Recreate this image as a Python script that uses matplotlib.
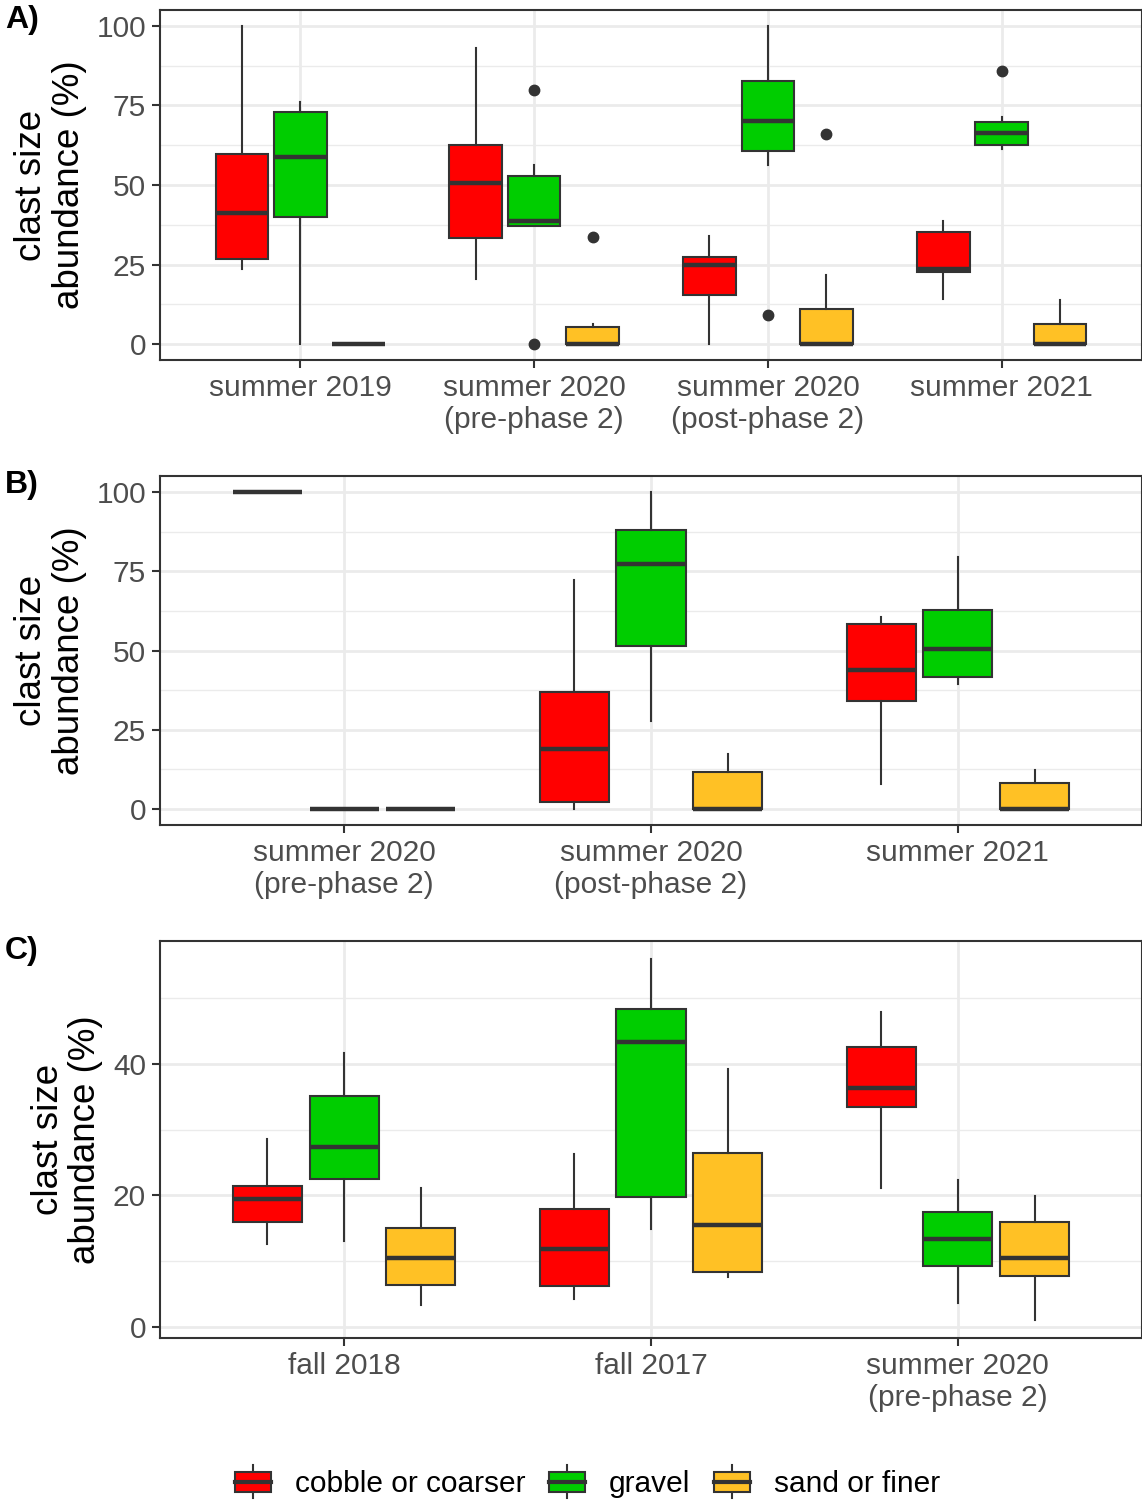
import numpy as np
import matplotlib.pyplot as plt
from matplotlib.patches import Rectangle, Patch
from matplotlib.lines import Line2D
from matplotlib.legend_handler import HandlerBase

plt.rcParams['font.family'] = ['Liberation Sans', 'DejaVu Sans']

classes = ["cobble or coarser", "gravel", "sand or finer"]
colors = ["#FF0000", "#00CD00", "#FFC125"]
edge = "#333333"

# every row: whisker low, q1, median, q3, whisker high
a_groups = ["summer 2019", "summer 2020\n(pre-phase 2)", "summer 2020\n(post-phase 2)", "summer 2021"]
a_cobble = [[23.6, 26.8, 41.2, 59.8, 100.0], [20.4, 33.2, 50.6, 62.6, 93.0],
            [0.0, 15.3, 24.8, 27.3, 34.1], [14.2, 22.8, 23.6, 35.1, 38.6]]
a_gravel = [[0.0, 39.9, 58.8, 72.9, 76.2], [37.2, 37.2, 38.6, 52.9, 56.3],
            [56.3, 60.7, 70.2, 82.8, 100.0], [61.3, 62.6, 66.3, 69.9, 71.5]]
a_sand = [[0.0, 0.0, 0.0, 0.0, 0.0], [0.0, 0.0, 0.0, 5.5, 6.4],
          [0.0, 0.0, 0.0, 10.9, 21.8], [0.0, 0.0, 0.0, 6.4, 13.8]]
a_out_cobble = [[], [], [], []]
a_out_gravel = [[], [79.7, 0.0], [9.1], [85.8]]
a_out_sand = [[], [33.7], [66.0], []]

b_groups = ["summer 2020\n(pre-phase 2)", "summer 2020\n(post-phase 2)", "summer 2021"]
b_cobble = [[100.0, 100.0, 100.0, 100.0, 100.0], [0.0, 2.4, 19.1, 36.9, 72.1],
            [7.9, 34.2, 43.8, 58.2, 60.5]]
b_gravel = [[0.0, 0.0, 0.0, 0.0, 0.0], [27.7, 51.3, 77.2, 88.0, 100.0],
            [39.3, 41.8, 50.6, 62.8, 79.6]]
b_sand = [[0.0, 0.0, 0.0, 0.0, 0.0], [0.0, 0.0, 0.0, 11.6, 17.3],
          [0.0, 0.0, 0.0, 8.3, 12.4]]
b_out = [[], [], []]

c_groups = ["fall 2018", "fall 2017", "summer 2020\n(pre-phase 2)"]
c_cobble = [[12.6, 15.9, 19.5, 21.4, 28.6], [4.2, 6.1, 11.8, 17.9, 26.3],
            [21.1, 33.4, 36.4, 42.6, 48.0]]
c_gravel = [[13.1, 22.5, 27.4, 35.2, 41.7], [14.9, 19.7, 43.4, 48.4, 56.0],
            [3.6, 9.2, 13.4, 17.5, 22.4]]
c_sand = [[3.3, 6.4, 10.4, 15.0, 21.1], [7.5, 8.3, 15.5, 26.4, 39.3],
          [1.0, 7.7, 10.5, 15.9, 19.9]]
c_out = [[], [], []]


def panel(ax, groups, series, outliers, major, minor):
    n = len(groups)
    allv = []
    for k, (vals, outs) in enumerate(zip(series, outliers)):
        stats = [dict(whislo=v[0], q1=v[1], med=v[2], q3=v[3], whishi=v[4], fliers=o)
                 for v, o in zip(vals, outs)]
        for v, o in zip(vals, outs):
            allv += list(v) + list(o)
        pos = np.arange(1, n + 1) + (k - 1) * 0.25
        ax.bxp(stats, positions=pos, widths=0.225, patch_artist=True, showcaps=False,
               manage_ticks=False,
               boxprops=dict(facecolor=colors[k], edgecolor=edge, linewidth=1.5),
               medianprops=dict(color=edge, linewidth=3.2),
               whiskerprops=dict(color=edge, linewidth=1.5),
               flierprops=dict(marker='o', markerfacecolor=edge, markeredgecolor=edge,
                               markersize=7.5))
    lo, hi = min(allv), max(allv)
    pad = 0.05 * (hi - lo)
    ax.set_ylim(lo - pad, hi + pad)
    ax.set_xlim(0.4, n + 0.6)
    ax.set_xticks(np.arange(1, n + 1))
    ax.set_xticklabels(groups)
    ax.set_yticks(major)
    ax.set_yticks(minor, minor=True)
    ax.set_axisbelow(True)
    ax.grid(which='major', color='#EBEBEB', lw=2.0)
    ax.grid(which='minor', axis='y', color='#EBEBEB', lw=1.0)
    for s in ax.spines.values():
        s.set_color(edge)
        s.set_linewidth(1.5)
    ax.tick_params(which='major', length=6, width=1.5, color=edge, labelcolor='#4D4D4D',
                   labelsize=21.5, pad=4)
    ax.tick_params(which='minor', length=0)
    ax.set_ylabel("clast size\nabundance (%)", fontsize=26.5, linespacing=1.1, labelpad=7)


class BoxKey(HandlerBase):
    def create_artists(self, legend, orig, xd, yd, w, h, fs, trans):
        x0, y0 = -xd, -yd
        rect = Rectangle((x0, y0 + 0.17 * h), w, 0.66 * h, facecolor=orig.get_facecolor(),
                         edgecolor=edge, lw=1.5, transform=trans)
        med = Line2D([x0, x0 + w], [y0 + 0.5 * h] * 2, color=edge, lw=3, transform=trans)
        w1 = Line2D([x0 + w / 2] * 2, [y0 + 0.83 * h, y0 + 1.05 * h], color=edge, lw=1.5,
                    transform=trans)
        w2 = Line2D([x0 + w / 2] * 2, [y0 - 0.05 * h, y0 + 0.17 * h], color=edge, lw=1.5,
                    transform=trans)
        return [w1, w2, rect, med]


fig = plt.figure(figsize=(11.42, 15), dpi=100)
H = 1500.0
left = 160 / 1142.0
axA = fig.add_axes([left, 1 - 360 / H, 1 - left, 350 / H])
axB = fig.add_axes([left, 1 - 825 / H, 1 - left, 349 / H])
axC = fig.add_axes([left, 1 - 1338 / H, 1 - left, 397 / H])

ticks100 = [0, 25, 50, 75, 100]
minor100 = [12.5, 37.5, 62.5, 87.5]
panel(axA, a_groups, [a_cobble, a_gravel, a_sand], [a_out_cobble, a_out_gravel, a_out_sand],
      ticks100, minor100)
panel(axB, b_groups, [b_cobble, b_gravel, b_sand], [b_out, b_out, b_out], ticks100, minor100)
panel(axC, c_groups, [c_cobble, c_gravel, c_sand], [c_out, c_out, c_out],
      [0, 20, 40], [10, 30, 50])

for lab, ytop in [("A)", 5), ("B)", 470), ("C)", 936)]:
    fig.text(5 / 1142.0, 1 - ytop / H, lab, fontsize=23, fontweight='bold', va='top', ha='left')

fig.legend(handles=[Patch(facecolor=c) for c in colors], labels=classes,
           handler_map={Patch: BoxKey()}, loc='center',
           bbox_to_anchor=(587.5 / 1142.0, 1 - 1482 / H), ncol=3, frameon=False,
           fontsize=21.5, handlelength=1.2, handleheight=1.2, handletextpad=0.8,
           columnspacing=0.8)

fig.savefig("out.png", dpi=100)
